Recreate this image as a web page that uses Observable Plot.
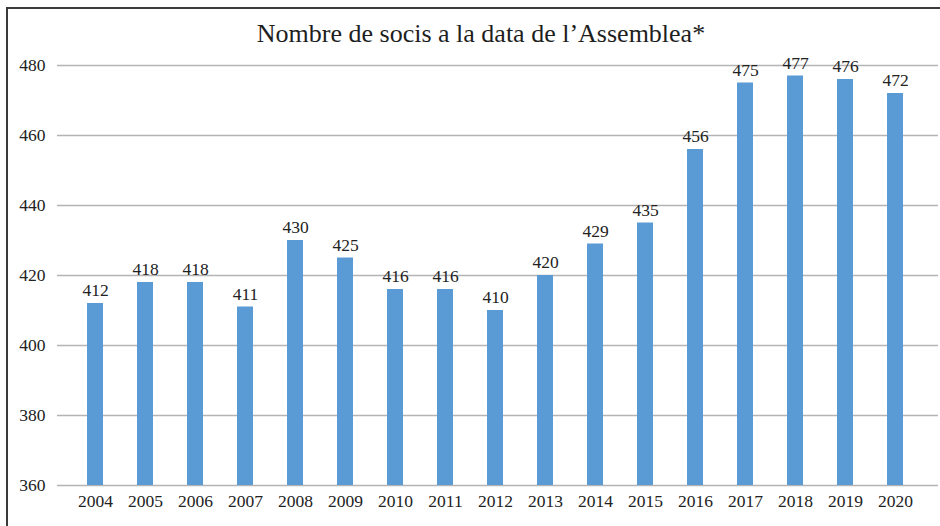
<!DOCTYPE html>
<html>
<head>
<meta charset="utf-8">
<script src="https://cdn.jsdelivr.net/npm/d3@7"></script>
<script src="https://cdn.jsdelivr.net/npm/@observablehq/plot@0.6"></script>
<style>
  html, body { margin: 0; padding: 0; background: #fff; width: 940px; height: 526px; overflow: hidden; }
  #frame { position: absolute; left: 6px; top: 7px; width: 1000px; height: 1000px; border-left: 2px solid #3a3a3a; border-top: 2px solid #3a3a3a; box-sizing: border-box; }
  #title { position: absolute; left: 0; top: 19px; width: 962px; text-align: center; font-family: "Liberation Serif", "DejaVu Serif", serif; font-size: 26px; color: #1e1e1e; line-height: 30px; }
  #chart { position: absolute; left: 0; top: 50px; font-family: "Liberation Serif", serif; }
</style>
</head>
<body>
<div id="frame"></div>
<div id="title">Nombre de socis a la data de l’Assemblea*</div>
<div id="chart"></div>
<script>
const years = ["2004","2005","2006","2007","2008","2009","2010","2011","2012","2013","2014","2015","2016","2017","2018","2019","2020"];
const members = [412,418,418,411,430,425,416,416,410,420,429,435,456,475,477,476,472];
const yTicks = [360,380,400,420,440,460,480];

const data = years.map((y, i) => ({year: y, value: members[i]}));

const serif = "Liberation Serif, DejaVu Serif, serif";

const chart = Plot.plot({
  width: 940,
  height: 476,
  marginLeft: 51,
  marginRight: 0,
  marginTop: 15,
  marginBottom: 41,
  style: "background: transparent; overflow: visible; color: #222; font-family: 'Liberation Serif', serif; font-size: 17.5px;",
  x: {domain: years, padding: 0.675, label: null, tickSize: 0, tickPadding: 9},
  y: {domain: [360, 480], ticks: yTicks, label: null, tickSize: 0, tickPadding: 6},
  marks: [
    Plot.ruleY(yTicks, {stroke: "#b4b4b4", strokeWidth: 1.3, insetLeft: 6, insetRight: 2}),
    Plot.barY(data, {x: "year", y1: 360, y2: "value", fill: "#5b9bd5"}),
    Plot.text(data, {x: "year", y: "value", text: d => String(d.value), dy: -13, fill: "#222", fontFamily: serif, fontSize: 17.5})
  ]
});
d3.select(chart).selectAll("text, g")
  .attr("font-family", serif)
  .style("font-family", serif)
  .style("font-size", "17.5px");
document.getElementById("chart").appendChild(chart);
</script>
</body>
</html>
